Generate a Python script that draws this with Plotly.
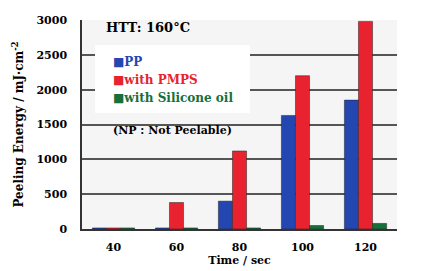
import plotly.graph_objects as go

categories = ["40", "60", "80", "100", "120"]
pp = [15, 15, 400, 1630, 1850]
pmps = [15, 380, 1120, 2200, 2980]
silicone = [15, 15, 15, 50, 80]
y_ticks = [0, 500, 1000, 1500, 2000, 2500, 3000]
series_names = ["PP", "with PMPS", "with Silicone oil"]

FONT = "DejaVu Serif"
blue, red, green = "#2446b0", "#e8222f", "#16703a"
colors = [blue, red, green]

# page body has an 8px margin; figure sized so it fills the 421x271 window
OFF = 8
W, H = 421 - OFF, 271 - OFF
L, R, T, B = 82 - OFF, 24, 20 - OFF, 42
pw, ph = W - L - R, H - T - B

def px(x):
    return (x - OFF - L) / pw

def py(y):
    return (H - B - (y - OFF)) / ph

fig = go.Figure()
for name, vals, col in zip(series_names, [pp, pmps, silicone], colors):
    fig.add_trace(go.Bar(
        x=categories, y=vals, name=name,
        marker=dict(color=col, line=dict(color="#222", width=0.5)),
    ))

fig.update_layout(
    width=W, height=H,
    margin=dict(l=L, r=R, t=T, b=B),
    paper_bgcolor="white", plot_bgcolor="#f5f5f5",
    barmode="group", bargap=0.33, bargroupgap=0,
    font=dict(family=FONT, size=11, color="black"),
    showlegend=False,
    xaxis=dict(type="category", showline=True, linecolor="#333", linewidth=1.5,
               automargin=False,
               tickvals=categories, ticktext=[f"<b>{c}</b>" for c in categories],
               tickfont=dict(family=FONT, size=11, color="black"),
               ticklabelstandoff=7,
               title=dict(text="<b>Time / sec</b>", standoff=2,
                          font=dict(family=FONT, size=11))),
    yaxis=dict(range=[0, 3000], tickvals=y_ticks,
               ticktext=[f"<b>{v}</b>" for v in y_ticks],
               automargin=False,
               showgrid=True, gridcolor="#555", gridwidth=1.5,
               showline=True, linecolor="#333", linewidth=1.5,
               zeroline=False,
               tickfont=dict(family=FONT, size=11, color="black"),
               ticklabelstandoff=11,
               title=dict(text="<b>Peeling Energy / mJ·cm<sup>-2</sup></b>", standoff=10,
                          font=dict(family=FONT, size=12))),
)

# legend box (white) as in the reference
fig.add_shape(type="rect", xref="paper", yref="paper",
              x0=px(95), x1=px(250), y0=py(113), y1=py(45),
              fillcolor="white", line=dict(width=0), layer="above")
for i, (name, col) in enumerate(zip(series_names, colors)):
    fig.add_annotation(text=f"<b>■{name}</b>", xref="paper", yref="paper",
                       x=px(111), y=py(62 + 18 * i), xanchor="left", yanchor="middle",
                       showarrow=False, font=dict(family=FONT, size=12, color=col))

fig.add_annotation(text="<b>HTT: 160°C</b>", xref="paper", yref="paper",
                   x=px(104), y=py(28), xanchor="left", yanchor="middle",
                   showarrow=False, font=dict(family=FONT, size=13, color="black"))
fig.add_annotation(text="<b>(NP : Not Peelable)</b>", xref="paper", yref="paper",
                   x=px(111), y=py(130), xanchor="left", yanchor="middle",
                   showarrow=False, font=dict(family=FONT, size=11, color="black"))

fig.write_html("out.html")
